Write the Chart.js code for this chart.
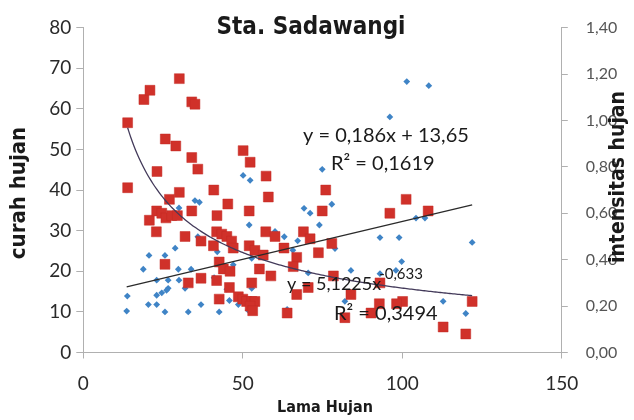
<!DOCTYPE html>
<html>
<head>
<meta charset="utf-8">
<script src="https://cdn.jsdelivr.net/npm/chart.js@4.4.1/dist/chart.umd.min.js"></script>
<style>
  html, body { margin: 0; padding: 0; background: #fff; }
  #chart { display: block; }
</style>
</head>
<body>
<canvas id="chart" width="634" height="420"></canvas>
<script>
// curah hujan (mm) vs lama hujan (menit) - blue diamonds, left axis
var lamaCurah = [50.1, 52.3, 74.9, 35.0, 77.9, 101.4, 108.3, 96.1, 30.0, 52.0, 69.2, 71.1, 74.0, 60.1, 63.0, 67.2, 35.9, 28.8, 20.6, 25.6,
                 18.8, 29.8, 33.8, 42.0, 47.0, 52.8, 65.7, 70.5, 23.0, 26.6, 30.0, 26.6, 26.1, 24.6, 23.0, 13.8, 31.9, 41.0, 45.0, 52.8,
                 45.8, 20.4, 23.0, 36.9, 48.6, 13.6, 25.6, 32.9, 42.6, 51.7, 63.9, 78.9, 93.0, 99.0, 104.3, 107.1, 121.9, 99.8, 83.9, 93.0,
                 98.0, 82.0, 112.8, 119.9, 36.4];
var curahHujan = [43.6, 42.4, 45.1, 37.4, 36.5, 66.7, 65.7, 58.0, 35.6, 31.4, 35.5, 34.3, 31.4, 29.8, 28.5, 27.5, 28.5, 25.7, 23.9, 23.9,
                  20.5, 20.5, 20.5, 24.8, 21.6, 23.2, 25.2, 19.6, 17.8, 17.8, 17.8, 15.8, 15.3, 14.7, 14.1, 13.9, 15.8, 18.4, 15.6, 15.8,
                  12.8, 11.8, 11.8, 11.8, 11.8, 10.2, 10.0, 10.0, 10.0, 10.4, 10.6, 25.6, 28.3, 28.3, 33.1, 33.1, 27.1, 22.4, 20.2, 19.4,
                  20.2, 12.6, 12.6, 9.6, 37.0];

// intensitas hujan (mm/menit) vs lama hujan - red squares, right axis
var lamaIntensitas = [13.9, 19.0, 20.9, 30.1, 34.0, 35.0, 25.7, 29.0, 34.0, 35.9, 23.1, 13.9, 30.1, 40.9, 50.1, 52.3, 57.3, 58.0, 76.0, 27.0,
                      45.3, 101.2, 20.7, 23.0, 24.6, 25.9, 27.7, 29.5, 34.0, 22.9, 31.9, 36.9, 41.9, 52.0, 57.2, 60.1, 62.9, 41.8, 43.4, 45.0,
                      46.5, 47.0, 40.8, 52.0, 53.8, 56.4, 69.0, 71.1, 74.9, 77.9, 73.7, 66.9, 65.8, 25.6, 42.6, 43.9, 46.0, 55.2, 58.8, 32.9,
                      36.9, 41.8, 45.8, 52.8, 42.6, 48.6, 50.0, 51.2, 52.8, 53.8, 52.3, 53.1, 70.5, 66.9, 63.9, 78.4, 96.1, 108.1, 83.9, 93.0,
                      100.1, 92.8, 98.2, 90.2, 82.0, 121.9, 112.8, 119.9];
var intensitasHujan = [0.99, 1.09, 1.13, 1.18, 1.08, 1.07, 0.92, 0.89, 0.84, 0.79, 0.78, 0.71, 0.69, 0.70, 0.87, 0.82, 0.76, 0.67, 0.70, 0.66,
                       0.64, 0.66, 0.57, 0.61, 0.60, 0.58, 0.59, 0.59, 0.61, 0.52, 0.50, 0.48, 0.59, 0.61, 0.52, 0.50, 0.45, 0.52, 0.51, 0.50,
                       0.48, 0.45, 0.46, 0.46, 0.44, 0.42, 0.52, 0.49, 0.61, 0.47, 0.43, 0.41, 0.37, 0.38, 0.39, 0.36, 0.35, 0.36, 0.33, 0.30,
                       0.32, 0.31, 0.28, 0.30, 0.23, 0.24, 0.23, 0.22, 0.22, 0.22, 0.20, 0.18, 0.28, 0.25, 0.17, 0.33, 0.60, 0.61, 0.25, 0.30,
                       0.22, 0.21, 0.21, 0.17, 0.15, 0.22, 0.11, 0.08];

var xTicks = [0, 50, 100, 150];

// trendline coefficients
var linSlope = 0.186, linIntercept = 13.65, linR2 = '0,1619';
var powCoef = 5.1225, powExp = -0.633, powR2 = '0,3494';

function pairs(xs, ys) { return xs.map(function (x, i) { return { x: x, y: ys[i] }; }); }
function koma(v) { return String(v).replace('.', ','); }

var linMin = Math.min.apply(null, lamaCurah), linMax = Math.max.apply(null, lamaCurah);
var linLine = [linMin, linMax].map(function (x) { return { x: x, y: linSlope * x + linIntercept }; });

var powMin = Math.min.apply(null, lamaIntensitas), powMax = Math.max.apply(null, lamaIntensitas);
var powLine = [];
for (var x = powMin; x < powMax; x += 1) powLine.push({ x: x, y: powCoef * Math.pow(x, powExp) });
powLine.push({ x: powMax, y: powCoef * Math.pow(powMax, powExp) });

var tickFont = { family: 'Lato, "Open Sans", sans-serif', size: 19 };
var narrow = '"Liberation Sans Narrow", "DejaVu Sans Condensed", sans-serif';
var eqFont = 'Lato, "Open Sans", sans-serif';

// texts drawn over the plot: title, axis titles, trend equations
var labelsPlugin = {
  id: 'labels',
  afterDraw: function (chart) {
    var ctx = chart.ctx;
    ctx.save();
    ctx.fillStyle = '#1a1a1a';
    ctx.textBaseline = 'middle';
    ctx.textAlign = 'center';
    ctx.font = 'bold 24px ' + narrow;
    ctx.fillText('Sta. Sadawangi', 311, 28);

    ctx.font = 'bold 16px ' + narrow;
    ctx.fillText('Lama Hujan', 325, 408);

    ctx.font = 'bold 22px ' + narrow;
    ctx.save();
    ctx.translate(19, 193);
    ctx.rotate(-Math.PI / 2);
    ctx.fillText('curah hujan', 0, 0);
    ctx.restore();
    ctx.font = 'bold 21px ' + narrow;
    ctx.save();
    ctx.translate(619, 177);
    ctx.rotate(-Math.PI / 2);
    ctx.fillText('intensitas hujan', 0, 0);
    ctx.restore();

    ctx.textAlign = 'left';
    ctx.textBaseline = 'alphabetic';
    ctx.font = '20px ' + eqFont;
    ctx.fillText('y = ' + koma(linSlope) + 'x + ' + koma(linIntercept), 303, 142);
    ctx.fillText('R\u00b2 = ' + linR2, 331, 170);
    ctx.font = '18px ' + eqFont;
    var base = 'y = ' + koma(powCoef) + 'x';
    ctx.fillText(base, 287, 290);
    var w = ctx.measureText(base).width;
    ctx.font = '15px ' + eqFont;
    ctx.fillText(koma(powExp), 287 + w - 2, 279);
    ctx.font = '20px ' + eqFont;
    ctx.fillText('R\u00b2 = ' + powR2, 334, 320);
    ctx.restore();
  }
};

var ctx = document.getElementById('chart');
new Chart(ctx, {
  type: 'scatter',
  data: {
    datasets: [
      {
        label: 'linear',
        type: 'line',
        data: linLine,
        yAxisID: 'y',
        borderColor: '#2a2a2a',
        borderWidth: 1.3,
        pointRadius: 0,
        fill: false,
        order: 0
      },
      {
        label: 'power',
        type: 'line',
        data: powLine,
        yAxisID: 'y1',
        borderColor: '#433a5a',
        borderWidth: 1.3,
        pointRadius: 0,
        tension: 0.3,
        fill: false,
        order: 0
      },
      {
        label: 'intensitas hujan',
        data: pairs(lamaIntensitas, intensitasHujan),
        yAxisID: 'y1',
        pointStyle: 'rect',
        pointRadius: 7,
        backgroundColor: '#d0312a',
        borderColor: '#c42a24',
        borderWidth: 0.5,
        order: 1
      },
      {
        label: 'curah hujan',
        data: pairs(lamaCurah, curahHujan),
        yAxisID: 'y',
        pointStyle: 'rectRot',
        pointRadius: 3.4,
        backgroundColor: '#3f84c6',
        borderColor: '#3f84c6',
        borderWidth: 0,
        order: 2
      }
    ]
  },
  options: {
    responsive: false,
    animation: false,
    events: [],
    layout: { padding: { top: 17, left: 0, right: 0, bottom: 0 } },
    plugins: { legend: { display: false }, tooltip: { enabled: false } },
    scales: {
      x: {
        type: 'linear',
        min: 0,
        max: 150,
        afterBuildTicks: function (s) { s.ticks = xTicks.map(function (v) { return { value: v }; }); },
        afterFit: function (s) { s.height = 67.5; },
        grid: { drawOnChartArea: false, tickLength: 6, color: '#b0b0b0' },
        border: { color: '#b0b0b0' },
        ticks: { font: tickFont, color: '#2a2a2a', padding: 14, maxRotation: 0 }
      },
      y: {
        position: 'left',
        min: 0,
        max: 80,
        afterFit: function (s) { s.width = 83.3; },
        grid: { drawOnChartArea: false, tickLength: 7, color: '#b0b0b0' },
        border: { color: '#b0b0b0' },
        ticks: { stepSize: 10, font: tickFont, color: '#2a2a2a', padding: 5 }
      },
      y1: {
        position: 'right',
        min: 0,
        max: 1.4,
        afterFit: function (s) { s.width = 72.2; },
        grid: { drawOnChartArea: false, tickLength: 6, color: '#b0b0b0' },
        border: { color: '#b0b0b0' },
        ticks: {
          stepSize: 0.2,
          font: { family: 'Lato, "Open Sans", sans-serif', size: 16 },
          color: '#555',
          padding: 18,
          callback: function (v) { return v.toFixed(2).replace('.', ','); }
        }
      }
    }
  },
  plugins: [labelsPlugin]
});
</script>
</body>
</html>
